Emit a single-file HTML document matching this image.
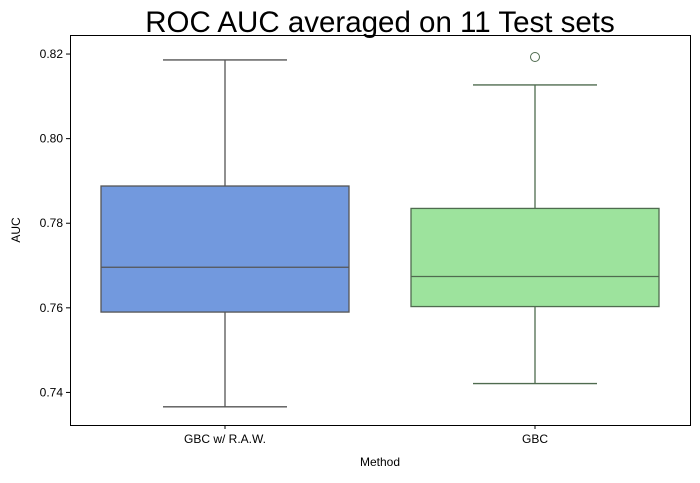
<!DOCTYPE html>
<html><head><meta charset="utf-8"><style>
body{margin:0;background:#fff;}
svg text{font-family:"Liberation Sans","DejaVu Sans",sans-serif;}
</style></head><body>
<svg id="chart" width="700" height="478" viewBox="0 0 700 478" xmlns="http://www.w3.org/2000/svg">
<text x="380" y="32" font-size="29.5" text-anchor="middle" fill="#000">ROC AUC averaged on 11 Test sets</text>
<g id="plot"></g>
<rect x="70.5" y="35.5" width="620" height="390" fill="none" stroke="#000" stroke-width="1"/>
<text x="380" y="466" font-size="12" text-anchor="middle">Method</text>
<text x="20" y="230" font-size="12" text-anchor="middle" transform="rotate(-90 20 230)">AUC</text>
</svg>
<script>
const categories=["GBC w/ R.A.W.","GBC"];
const whiskerLow=[0.7366,0.7421];
const q1=[0.7590,0.7603];
const median=[0.7696,0.7674];
const q3=[0.7888,0.7835];
const whiskerHigh=[0.8186,0.8127];
const outliers=[[],[0.8193]];
const yTicks=[0.74,0.76,0.78,0.80,0.82];
const fills=["#7299de","#9de39d"];
const strokes=["#555555","#4f6b4f"];
const L=70,R=690,T=35,B=425,yMin=0.7323,yMax=0.8245;
const y=v=>B-(v-yMin)/(yMax-yMin)*(B-T);
const step=(R-L)/categories.length;
const x=i=>L+step*(i+0.5);
const NS="http://www.w3.org/2000/svg";
const g=document.getElementById('plot');
function mk(tag,attrs){const e=document.createElementNS(NS,tag);for(const k in attrs)e.setAttribute(k,attrs[k]);g.appendChild(e);return e;}
yTicks.forEach(t=>{
 const l=mk('line',{x1:L-4,x2:L,y1:y(t),y2:y(t),stroke:'#000'});
 
 
 const tx=mk('text',{x:L-7,y:y(t)+4,'font-size':12,'text-anchor':'end'});
 tx.textContent=t.toFixed(2);
 
 
});
categories.forEach((c,i)=>{
 const cx=x(i),w=step*0.8,cap=w/2;
 const s=strokes[i];
 const wl=mk('line',{x1:cx,x2:cx,y1:y(q1[i]),y2:y(whiskerLow[i]),stroke:s,'stroke-width':1.3});
 
 
 const wh=mk('line',{x1:cx,x2:cx,y1:y(q3[i]),y2:y(whiskerHigh[i]),stroke:s,'stroke-width':1.3});
 
 
 const c1=mk('line',{x1:cx-cap/2,x2:cx+cap/2,y1:y(whiskerLow[i]),y2:y(whiskerLow[i]),stroke:s,'stroke-width':1.3});
 
 
 const c2=mk('line',{x1:cx-cap/2,x2:cx+cap/2,y1:y(whiskerHigh[i]),y2:y(whiskerHigh[i]),stroke:s,'stroke-width':1.3});
 
 
 const b=mk('rect',{x:cx-w/2,y:y(q3[i]),width:w,height:y(q1[i])-y(q3[i]),fill:fills[i],stroke:s,'stroke-width':1.3});
 
 
 const m=mk('line',{x1:cx-w/2,x2:cx+w/2,y1:y(median[i]),y2:y(median[i]),stroke:s,'stroke-width':1.3});
 
 
 outliers[i].forEach(o=>{
  const p=mk('circle',{cx:cx,cy:y(o),r:4.5,fill:'none',stroke:s,'stroke-width':1});
  
  
 });
 const tk=mk('line',{x1:cx,x2:cx,y1:B,y2:B+4,stroke:'#000'});
 
 
 const tl=mk('text',{x:cx,y:B+18,'font-size':12,'text-anchor':'middle'});
 tl.textContent=c;
 
 
});
</script>
</body></html>
